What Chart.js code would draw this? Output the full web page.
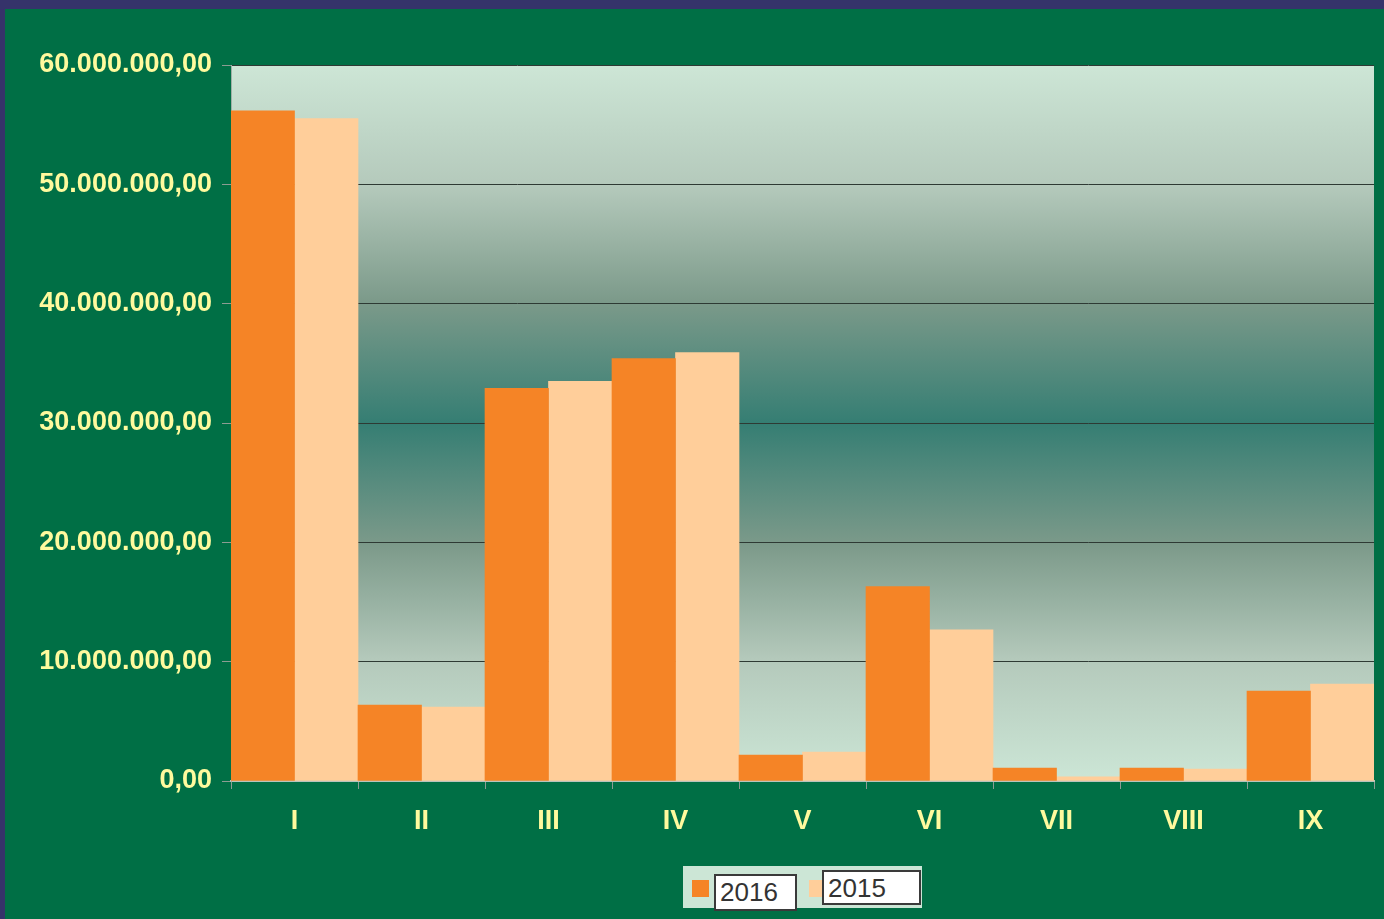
<!DOCTYPE html>
<html>
<head>
<meta charset="utf-8">
<script src="https://cdn.jsdelivr.net/npm/chart.js@4/dist/chart.umd.min.js"></script>
<style>
  body { margin: 0; background: #35336a; width: 1384px; height: 919px; overflow: hidden; }
  #frame { position: absolute; left: 5px; top: 9px; width: 1379px; height: 910px; background: #006f45; }
  #chart { position: absolute; left: 0; top: 0; }
  #legend { position: absolute; left: 678px; top: 857px; width: 239px; height: 42px; background: #cce6d6;
            font-family: "Liberation Sans", Arial, sans-serif; font-size: 26px; color: #333; }
  .sw { position: absolute; width: 17px; height: 17px; }
  .lb { position: absolute; background: #fff; border: 2px solid #3a3a3a; box-sizing: border-box; padding: 0 0 0 4px; line-height: 33px; }
</style>
</head>
<body>
<div id="frame">
  <canvas id="chart" width="1379" height="910"></canvas>
  <div id="legend"></div>
</div>
<script>
const categories = ['I', 'II', 'III', 'IV', 'V', 'VI', 'VII', 'VIII', 'IX'];
const values2016 = [56150000, 6370000, 32900000, 35400000, 2180000, 16300000, 1090000, 1090000, 7540000];
const values2015 = [55500000, 6200000, 33500000, 35900000, 2430000, 12660000, 340000, 1000000, 8130000];
const seriesNames = ['2016', '2015'];

function formatNumber(v) {
    var s = Math.round(v).toString().replace(/\B(?=(\d{3})+(?!\d))/g, '.');
    return s + ',00';
}

const plotBackground = {
    id: 'plotBackground',
    beforeDraw: function (chart) {
        var ctx = chart.ctx, a = chart.chartArea;
        var g = ctx.createLinearGradient(0, a.top, 0, a.bottom);
        g.addColorStop(0, '#cde6d6');
        g.addColorStop(0.17, '#b4c9bb');
        g.addColorStop(0.33, '#7c9a8a');
        g.addColorStop(0.5, '#357e73');
        g.addColorStop(0.67, '#7c9a8a');
        g.addColorStop(0.83, '#b4c9bb');
        g.addColorStop(1, '#cce6d6');
        ctx.save();
        ctx.fillStyle = g;
        ctx.fillRect(a.left, a.top, a.right - a.left, a.bottom - a.top);
        ctx.restore();
    }
};

const tickFont = { family: '"Liberation Sans", Arial, sans-serif', size: 27, weight: 'bold' };

var ctx = document.getElementById('chart').getContext('2d');
var myChart = new Chart(ctx, {
    type: 'bar',
    data: {
        labels: categories,
        datasets: [{
            label: seriesNames[0],
            data: values2016,
            backgroundColor: '#f58426'
        }, {
            label: seriesNames[1],
            data: values2015,
            backgroundColor: '#ffce9a'
        }]
    },
    options: {
        responsive: false,
        animation: false,
        events: [],
        layout: { padding: { top: 56, right: 10, left: 0, bottom: 0 } },
        categoryPercentage: 1.0,
        barPercentage: 1.0,
        plugins: { legend: { display: false }, tooltip: { enabled: false } },
        scales: {
            x: {
                afterFit: function (scale) { scale.height = 138; },
                grid: { offset: true, drawOnChartArea: false, drawTicks: true, tickLength: 8, tickColor: '#8c9c92' },
                border: { color: '#b9c4bc', width: 2 },
                ticks: { color: '#fffa9e', font: tickFont, padding: 16 }
            },
            y: {
                min: 0,
                max: 60000000,
                afterFit: function (scale) { scale.width = 226; },
                ticks: { stepSize: 10000000, color: '#fffa9e', font: tickFont, padding: 10,
                         callback: function (v) { return formatNumber(v); } },
                grid: { color: '#2e3a34', tickColor: '#8c9c92', tickLength: 9, lineWidth: 1 },
                border: { color: '#9fb0a5', width: 1 }
            }
        }
    },
    plugins: [plotBackground]
});

// legend with boxed labels
var legend = document.getElementById('legend');
var legendLayout = [
    { sw: [9, 14], box: [31, 8, 83, 37] },
    { sw: [126, 14], box: [139, 4, 99, 35] }
];
myChart.data.datasets.forEach(function (ds, i) {
    var L = legendLayout[i];
    var sw = document.createElement('div');
    sw.className = 'sw';
    sw.style.left = L.sw[0] + 'px';
    sw.style.top = L.sw[1] + 'px';
    sw.style.background = ds.backgroundColor;
    legend.appendChild(sw);
    var lb = document.createElement('div');
    lb.className = 'lb';
    lb.style.left = L.box[0] + 'px';
    lb.style.top = L.box[1] + 'px';
    lb.style.width = L.box[2] + 'px';
    lb.style.height = L.box[3] + 'px';
    lb.textContent = ds.label;
    legend.appendChild(lb);
});
</script>
</body>
</html>
